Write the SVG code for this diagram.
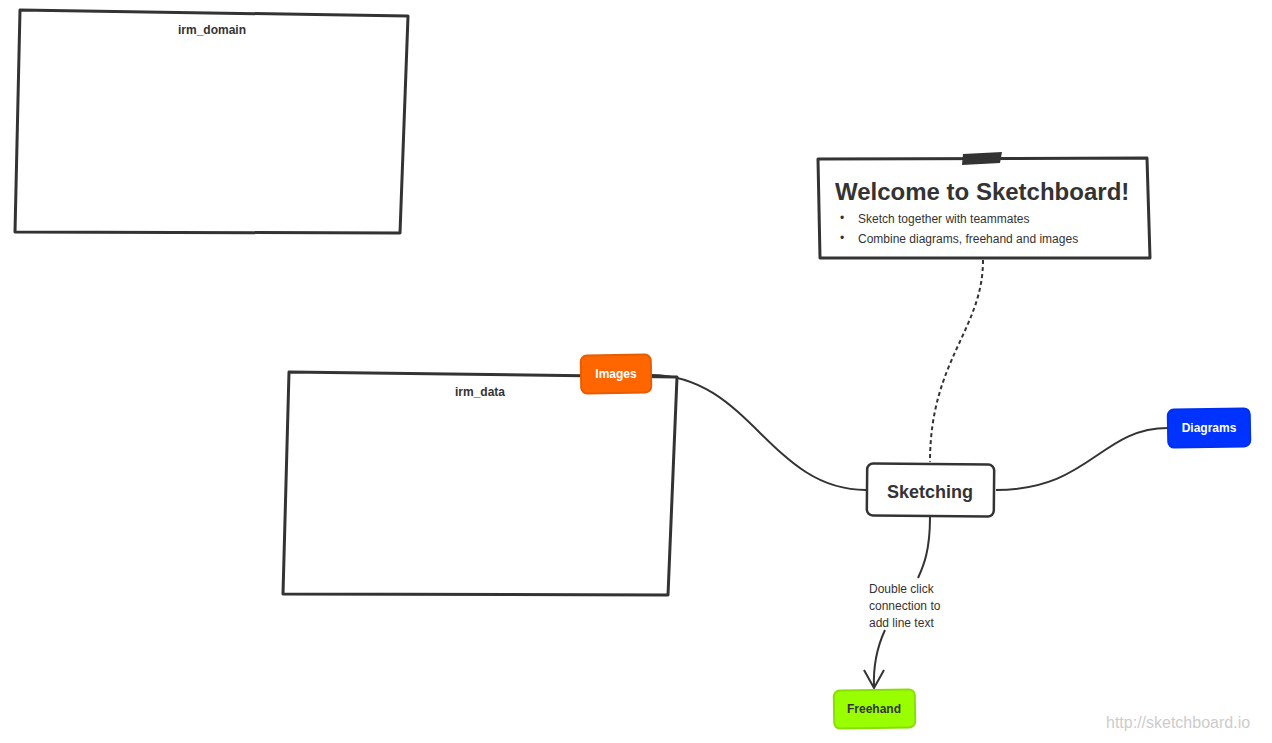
<svg xmlns="http://www.w3.org/2000/svg" width="1272" height="743" viewBox="0 0 1272 743">
<style>
.frame{fill:#fff;stroke:#333;stroke-width:3;stroke-linejoin:round}
.lbl{font-family:"Liberation Sans",Arial,sans-serif;font-weight:bold;font-size:12px;fill:#333;text-anchor:middle}
.conn{fill:none;stroke:#333;stroke-width:2}
.small{font-family:"Liberation Sans",Arial,sans-serif;font-size:12px;fill:#333}
.tag{font-family:"Liberation Sans",Arial,sans-serif;font-weight:bold;font-size:12px;text-anchor:middle}
</style>
<defs>
<marker id="arr" markerWidth="24" markerHeight="24" refX="12" refY="20" orient="auto" markerUnits="userSpaceOnUse" viewBox="0 0 24 24">
<path d="M3,3 L12,20 L21,3" fill="none" stroke="#333" stroke-width="2"/>
</marker>
</defs>
<rect width="1272" height="743" fill="#fff"/>
<g id="connectors">
<path class="conn" d="M651,375 C750,375 770,490 866,490"/>
<path class="conn" d="M996,490 C1090,490 1100,428 1168,428"/>
<path class="conn" d="M983,260 C983,330 930,360 930,462" stroke-dasharray="4,3"/>
<path class="conn" d="M930,517 C930,550 924,565 918,578"/>
<path class="conn" d="M885,630 C878,645 873,665 874,688"/>
<path d="M864,670 L874,688 L884,670" fill="none" stroke="#333" stroke-width="2"/>
<text class="small" x="869" y="593">Double click</text>
<text class="small" x="869" y="610">connection to</text>
<text class="small" x="869" y="627">add line text</text>
</g>
<g id="irm_domain">
<polygon class="frame" points="20,10 408,16 400,233 15,232"/>
<text class="lbl" x="212" y="34">irm_domain</text>
</g>
<g id="irm_data">
<polygon class="frame" points="289,372 677,377 668,595 283,594"/>
<text class="lbl" x="480" y="396">irm_data</text>
</g>
<g id="welcome">
<polygon class="frame" points="818,159 1147,158 1150,258 820,258"/>
<polygon points="963,154 1002,152 1000,163 962,165" fill="#333"/>
<text x="835" y="200" font-family="Liberation Sans,Arial,sans-serif" font-weight="bold" font-size="24" fill="#333">Welcome to Sketchboard!</text>
<text class="small" x="840" y="222">•</text>
<text class="small" x="858" y="223">Sketch together with teammates</text>
<text class="small" x="840" y="242">•</text>
<text class="small" x="858" y="243">Combine diagrams, freehand and images</text>
</g>
<g id="sketching">
<rect x="867" y="464" width="127" height="52" rx="6" fill="#fff" stroke="#333" stroke-width="2.5" transform="rotate(0.5 930 490)"/>
<text x="930" y="498" font-family="Liberation Sans,Arial,sans-serif" font-weight="bold" font-size="18" fill="#333" text-anchor="middle">Sketching</text>
</g>
<g id="images">
<rect x="581" y="355" width="70" height="38" rx="6" fill="#ff6600" stroke="#e85c00" stroke-width="2" transform="rotate(-1 616 374)"/>
<text class="tag" x="616" y="378" fill="#fff">Images</text>
</g>
<g id="diagrams">
<rect x="1168" y="409" width="82" height="38" rx="6" fill="#0033ff" stroke="#0030ee" stroke-width="2" transform="rotate(-1 1209 428)"/>
<text class="tag" x="1209" y="432" fill="#fff">Diagrams</text>
</g>
<g id="freehand">
<rect x="834" y="690" width="81" height="38" rx="6" fill="#99ff00" stroke="#88e000" stroke-width="2" transform="rotate(-1 874 709)"/>
<text class="tag" x="874" y="713" fill="#333">Freehand</text>
</g>
<text x="1106" y="728" font-family="Liberation Sans,Arial,sans-serif" font-size="16" fill="#ccc">http://sketchboard.io</text>
</svg>
